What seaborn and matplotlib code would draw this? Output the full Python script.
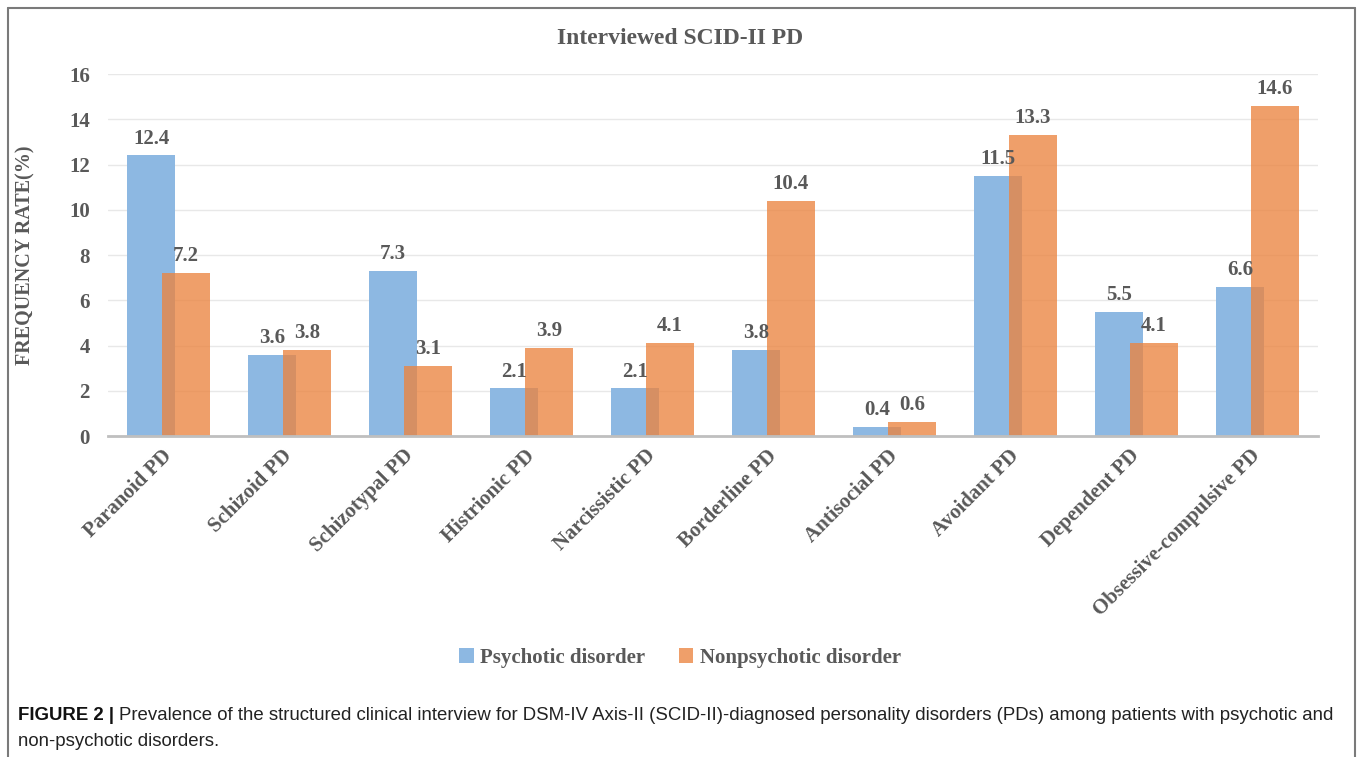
import matplotlib
matplotlib.use("Agg")
import matplotlib.pyplot as plt
import seaborn as sns
import pandas as pd
from matplotlib.patches import Patch
from matplotlib.lines import Line2D

categories = ["Paranoid PD", "Schizoid PD", "Schizotypal PD", "Histrionic PD",
              "Narcissistic PD", "Borderline PD", "Antisocial PD", "Avoidant PD",
              "Dependent PD", "Obsessive-compulsive PD"]
psychotic = [12.4, 3.6, 7.3, 2.1, 2.1, 3.8, 0.4, 11.5, 5.5, 6.6]
nonpsychotic = [7.2, 3.8, 3.1, 3.9, 4.1, 10.4, 0.6, 13.3, 4.1, 14.6]
series_names = ["Psychotic disorder", "Nonpsychotic disorder"]
yticks = [0, 2, 4, 6, 8, 10, 12, 14, 16]

TXT = "#595959"
BLUE = "#8DB8E2"
ORANGE = "#EB8440"

df = pd.DataFrame({
    "category": categories * 2,
    "value": psychotic + nonpsychotic,
    "group": [series_names[0]] * len(categories) + [series_names[1]] * len(categories),
})

sns.set_style("white")
plt.rcParams["font.family"] = ["Liberation Serif", "DejaVu Serif"]

W, H = 1360, 757
fig = plt.figure(figsize=(W / 100, H / 100), dpi=100)
ax = fig.add_axes([108 / W, 1 - 436 / H, 1210 / W, 362 / H])

sns.barplot(data=df, x="category", y="value", hue="group", hue_order=series_names,
            palette=[BLUE, ORANGE], saturation=1, width=0.8, dodge=True,
            linewidth=0, legend=False, ax=ax, errorbar=None)

bw = 0.397
offs = [-0.143, 0.143]
for ci, cont in enumerate(ax.containers):
    for i, p in enumerate(cont.patches):
        p.set_width(bw)
        p.set_x(i + offs[ci] - bw / 2)
        if ci == 1:
            p.set_alpha(0.78)
    ax.bar_label(cont, fmt="%.1f", padding=5, fontsize=15, fontweight="bold", color=TXT)

ax.set_xlim(-0.5, len(categories) - 0.5)
ax.set_ylim(0, 16)
ax.set_yticks(yticks)
ax.set_yticklabels([str(t) for t in yticks], fontsize=15, fontweight="bold", color=TXT)
ax.tick_params(axis="y", length=0, pad=13)
ax.tick_params(axis="x", length=0, pad=12)
ax.set_xticks(range(len(categories)))
ax.set_xticklabels(categories, rotation=45, ha="right", va="center",
                   rotation_mode="anchor", fontsize=15, fontweight="bold", color=TXT)
ax.set_xlabel("")
ax.set_ylabel("FREQUENCY RATE(%)", fontsize=14.5, fontweight="bold", color=TXT,
              va="center")
ax.yaxis.set_label_coords(-0.0686, 0.5)

ax.yaxis.grid(True, color="#E8E8E8", lw=1)
ax.set_axisbelow(True)
for s in ["left", "right", "top"]:
    ax.spines[s].set_visible(False)
ax.spines["bottom"].set_color("#BFBFBF")
ax.spines["bottom"].set_linewidth(2)
ax.spines["bottom"].set_zorder(5)

fig.text(680 / W, 1 - 38 / H, "Interviewed SCID-II PD", ha="center", va="center",
         fontsize=17, fontweight="bold", color=TXT)

handles = [Patch(facecolor=BLUE, edgecolor="none"),
           Patch(facecolor=ORANGE, alpha=0.78, edgecolor="none")]
fig.legend(handles, series_names, loc="center", bbox_to_anchor=(680 / W, 1 - 658 / H),
           ncol=2, frameon=False, handlelength=0.7, handleheight=0.7, handletextpad=0.3,
           columnspacing=1.6, prop={"weight": "bold", "size": 15}, labelcolor=TXT)

# frame
for xs, ys in [((8, 1355), (8, 8)), ((8, 8), (8, 760)), ((1355, 1355), (8, 760))]:
    fig.add_artist(Line2D([x / W for x in xs], [1 - y / H for y in ys],
                          color="#7A7A7A", lw=1.5, transform=fig.transFigure))

# caption
cap_font = ["Liberation Sans", "DejaVu Sans"]
cap_size = 13.4
fig.canvas.draw()
r = fig.canvas.get_renderer()
t1 = fig.text(18 / W, 1 - 716 / H, "FIGURE 2 | ", ha="left", va="center",
              fontsize=cap_size, fontweight="bold", family=cap_font, color="#111111")
bb = t1.get_window_extent(renderer=r)
fig.text(bb.x1 / W, 1 - 716 / H,
         "Prevalence of the structured clinical interview for DSM-IV Axis-II (SCID-II)-diagnosed personality disorders (PDs) among patients with psychotic and",
         ha="left", va="center", fontsize=cap_size, family=cap_font, color="#222222")
fig.text(18 / W, 1 - 741 / H, "non-psychotic disorders.", ha="left", va="center",
         fontsize=cap_size, family=cap_font, color="#222222")

fig.savefig("out.png", dpi=100)
